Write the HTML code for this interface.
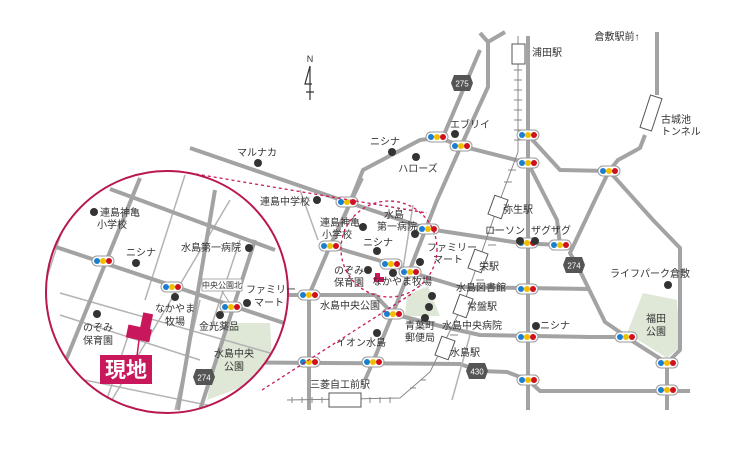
<!DOCTYPE html>
<html><head><meta charset="utf-8"><style>
html,body{margin:0;padding:0;background:#fff}
svg{display:block}
text{font-family:"Liberation Sans","Noto Sans CJK JP",sans-serif;fill:#333;font-size:10px}
.r{stroke:#a3a3a3;stroke-width:4;fill:none;stroke-linejoin:round}
.t{stroke:#b3b3b3;stroke-width:1.5;fill:none}
.d{fill:#333}
</style></head><body>
<svg width="730" height="457" viewBox="0 0 730 457" xmlns="http://www.w3.org/2000/svg">
<defs>
<g id="sg"><rect x="-11" y="-5" width="22" height="10" rx="5" fill="#fff" stroke="#999" stroke-width="1"/><circle cx="-6" cy="0" r="3" fill="#1a7fd0"/><circle cx="0" cy="0" r="3" fill="#f0c000"/><circle cx="6" cy="0" r="3" fill="#d0101a"/></g>
<clipPath id="cc"><circle cx="167" cy="292" r="121"/></clipPath>
</defs>

<polygon points="643,293 677,300 680,347 667,358 627,333" fill="#dfe8d6"/>
<polygon points="407,295 428,286 440,316 405,316" fill="#dfe8d6"/>

<polyline class="r" points="190,148 347,202 428,229 520,243 560,245"/>
<polyline class="r" points="330,246 391,264 410,272 460,287 590,289"/>
<polyline class="r" points="262,295 375,295 393,314 440,326 480,335 590,337 626,337 667,363"/>
<polyline class="r" points="195,362 460,364 480,371 507,372 528,380 540,391 690,391"/>
<polyline class="r" points="362,178 330,246 309,295 309,410"/>
<polyline class="r" points="480,33 488,42 488,87 461,146 437,200 393,313 373,362 365,380"/>
<polyline class="r" points="505,32 488,42"/>
<polyline class="r" points="480,50 443,137 420,140 363,170 343,220 330,246"/>
<polyline class="r" points="437,137 461,146 528,163"/>
<line class="r" x1="528" y1="36" x2="528" y2="410"/>
<polyline class="r" points="528,135 560,170 609,171"/>
<polyline class="r" points="528,163 557,220 560,245"/>
<polyline class="r" points="657,32 657,95"/>
<polyline class="r" points="645,135 640,148 618,160 609,171 595,200 570,253 582,275 605,322 627,337"/>
<polyline class="r" points="609,171 653,220 680,248 680,350 667,363 667,410"/>
<line class="t" x1="413" y1="205" x2="402" y2="275"/>
<line class="t" x1="300" y1="190" x2="318" y2="240"/>
<line class="t" x1="470" y1="335" x2="452" y2="400"/>
<g transform="translate(651,113) rotate(18)"><rect x="-6" y="-17" width="12" height="34" fill="#fff" stroke="#555" stroke-width="1"/></g>

<g stroke="#888" stroke-width="1" fill="none">
<polyline points="518,36 518,152 500,200 465,300 430,372 400,398 287,400"/>
<path d="M514,50h8M514,60h8M514,70h8M514,80h8M514,90h8M514,100h8M514,110h8M514,120h8M514,130h8M514,140h8M292,397v6M302,397v6M312,397v6M322,397v6M370,397v6M380,397v6M390,397v6M508,170h8M504,182h8M493,230h8M488,245h8M476,280h8M470,290h8M450,335h8M420,380h6M410,388h6"/>
</g>
<rect x="512" y="44" width="13" height="20" fill="#fff" stroke="#555"/>
<g transform="translate(498,207) rotate(20)"><rect x="-7" y="-10" width="14" height="20" fill="#fff" stroke="#555"/></g>
<g transform="translate(478,261) rotate(20)"><rect x="-7" y="-10" width="14" height="20" fill="#fff" stroke="#555"/></g>
<g transform="translate(463,306) rotate(20)"><rect x="-7" y="-10" width="14" height="20" fill="#fff" stroke="#555"/></g>
<g transform="translate(445,348) rotate(20)"><rect x="-7" y="-10" width="14" height="20" fill="#fff" stroke="#555"/></g>
<rect x="329" y="393" width="32" height="14" fill="#fff" stroke="#555"/>

<g transform="translate(462,83)"><polygon points="-8,-8 8,-8 11,0 8,8 -8,8 -11,0" fill="#555"/><text x="0" y="3.5" text-anchor="middle" style="fill:#fff;font-size:8px">275</text></g>
<g transform="translate(574,265)"><polygon points="-8,-8 8,-8 11,0 8,8 -8,8 -11,0" fill="#555"/><text x="0" y="3.5" text-anchor="middle" style="fill:#fff;font-size:8px">274</text></g>
<g transform="translate(477,371)"><polygon points="-8,-8 8,-8 11,0 8,8 -8,8 -11,0" fill="#555"/><text x="0" y="3.5" text-anchor="middle" style="fill:#fff;font-size:8px">430</text></g>

<use href="#sg" x="437" y="137"/><use href="#sg" x="461" y="146"/><use href="#sg" x="528" y="135"/><use href="#sg" x="528" y="163"/>
<use href="#sg" x="609" y="171"/><use href="#sg" x="347" y="202"/><use href="#sg" x="428" y="229"/><use href="#sg" x="330" y="246"/>
<use href="#sg" x="527" y="243"/><use href="#sg" x="560" y="245"/><use href="#sg" x="391" y="264"/><use href="#sg" x="410" y="272"/>
<use href="#sg" x="309" y="295"/><use href="#sg" x="527" y="289"/><use href="#sg" x="393" y="314"/><use href="#sg" x="527" y="337"/>
<use href="#sg" x="626" y="337"/><use href="#sg" x="667" y="363"/><use href="#sg" x="309" y="362"/><use href="#sg" x="373" y="362"/>
<use href="#sg" x="528" y="380"/><use href="#sg" x="667" y="390"/>

<g class="d">
<circle cx="258" cy="163" r="4"/><circle cx="317" cy="200" r="4"/><circle cx="392" cy="152" r="4"/><circle cx="416" cy="157" r="4"/>
<circle cx="455" cy="134" r="4"/><circle cx="363" cy="227" r="4"/><circle cx="415" cy="234" r="4"/><circle cx="377" cy="251" r="4"/>
<circle cx="420" cy="262" r="4"/><circle cx="368" cy="270" r="4"/><circle cx="393" cy="273" r="4"/><circle cx="432" cy="296" r="4"/>
<circle cx="429" cy="307" r="4"/><circle cx="425" cy="318" r="4"/><circle cx="377" cy="333" r="4"/><circle cx="520" cy="241" r="4"/>
<circle cx="535" cy="241" r="4"/><circle cx="668" cy="285" r="4"/><circle cx="536" cy="326" r="4"/>
</g>
<path d="M375,273h5v4h4v5h-10v-5h1z" fill="#c8175a"/>

<text x="257" y="156" text-anchor="middle">マルナカ</text>
<text x="285" y="205" text-anchor="middle">連島中学校</text>
<text x="385" y="145" text-anchor="middle">ニシナ</text>
<text x="418" y="172" text-anchor="middle">ハローズ</text>
<text x="470" y="128" text-anchor="middle">エブリイ</text>
<text x="394" y="218" text-anchor="middle">水島</text>
<text x="397" y="230" text-anchor="middle">第一病院</text>
<text x="340" y="226" text-anchor="middle">連島神亀</text>
<text x="337" y="238" text-anchor="middle">小学校</text>
<text x="378" y="246" text-anchor="middle">ニシナ</text>
<text x="452" y="251" text-anchor="middle">ファミリー</text>
<text x="448" y="263" text-anchor="middle">マート</text>
<text x="349" y="274" text-anchor="middle">のぞみ</text>
<text x="349" y="286" text-anchor="middle">保育園</text>
<text x="402" y="285" text-anchor="middle">なかやま牧場</text>
<text x="481" y="291" text-anchor="middle">水島図書館</text>
<text x="350" y="309" text-anchor="middle">水島中央公園</text>
<text x="420" y="329" text-anchor="middle">青葉町</text>
<text x="420" y="341" text-anchor="middle">郵便局</text>
<text x="472" y="329" text-anchor="middle">水島中央病院</text>
<text x="361" y="346" text-anchor="middle">イオン水島</text>
<text x="465" y="356" text-anchor="middle">水島駅</text>
<text x="482" y="310" text-anchor="middle">常盤駅</text>
<text x="489" y="270" text-anchor="middle">栄駅</text>
<text x="518" y="213" text-anchor="middle">弥生駅</text>
<text x="532" y="56">浦田駅</text>
<text x="505" y="234" text-anchor="middle">ローソン</text>
<text x="551" y="234" text-anchor="middle">ザグザグ</text>
<text x="650" y="277" text-anchor="middle">ライフパーク倉敷</text>
<text x="656" y="322" text-anchor="middle">福田</text>
<text x="656" y="335" text-anchor="middle">公園</text>
<text x="555" y="329" text-anchor="middle">ニシナ</text>
<text x="661" y="123">古城池</text>
<text x="661" y="135">トンネル</text>
<text x="617" y="40" text-anchor="middle">倉敷駅前↑</text>
<text x="340" y="388" text-anchor="middle">三菱自工前駅</text>

<text x="310" y="62" text-anchor="middle" style="font-size:9px">N</text>
<path d="M310,66 L310,100 M306,92h8 M310,66 L305,84 L312,84" stroke="#333" stroke-width="1.2" fill="none"/>

<g stroke="#c8175a" stroke-width="1.3" stroke-dasharray="3,3" fill="none">
<circle cx="389" cy="249" r="48"/>
<line x1="190" y1="173" x2="427" y2="213"/>
<line x1="262" y1="390" x2="413" y2="293"/>
</g>

<circle cx="167" cy="292" r="121" fill="#fff"/>
<g clip-path="url(#cc)">
<polygon points="227,323 270,323 272,360 242,387 207,400 213,367" fill="#dfe8d6"/>
<g class="t" stroke="#c4c4c4">
<line x1="80" y1="175" x2="30" y2="330"/><line x1="185" y1="175" x2="145" y2="300"/><line x1="200" y1="300" x2="175" y2="410"/>
<line x1="60" y1="293" x2="270" y2="353"/><line x1="60" y1="315" x2="200" y2="360"/><line x1="60" y1="375" x2="280" y2="420"/>
<line x1="230" y1="200" x2="100" y2="420"/><line x1="240" y1="240" x2="210" y2="330"/><line x1="130" y1="330" x2="100" y2="420"/>
</g>
<line class="r" stroke-width="5" x1="110" y1="189" x2="275" y2="250"/>
<line class="r" stroke-width="5" x1="50" y1="245" x2="290" y2="325"/>
<line class="r" stroke-width="5" x1="140" y1="178" x2="66" y2="360"/>
<line class="r" stroke-width="5" x1="215" y1="190" x2="178" y2="410"/>
<line class="r" stroke-width="5" x1="255" y1="240" x2="200" y2="410"/>
<g transform="translate(204,377)"><polygon points="-8,-8 8,-8 11,0 8,8 -8,8 -11,0" fill="#555"/><text x="0" y="3.5" text-anchor="middle" style="fill:#fff;font-size:8px">274</text></g>
</g>
<circle cx="167" cy="292" r="121" fill="none" stroke="#b8174f" stroke-width="2"/>

<use href="#sg" x="103" y="261"/><use href="#sg" x="172" y="287"/><use href="#sg" x="231" y="307"/>
<rect x="202" y="279" width="40" height="12" fill="#fff" stroke="#999" stroke-width="0.8"/>
<text x="222" y="288" text-anchor="middle" style="font-size:8px">中央公園北</text>
<line x1="222" y1="291" x2="229" y2="302" stroke="#999" stroke-width="0.8"/>
<g class="d">
<circle cx="94" cy="212" r="4"/><circle cx="136" cy="263" r="4"/><circle cx="249" cy="248" r="4"/><circle cx="175" cy="297" r="4"/>
<circle cx="247" cy="303" r="4"/><circle cx="220" cy="315" r="4"/><circle cx="97" cy="314" r="4"/>
</g>
<text x="100" y="216">連島神亀</text><text x="97" y="228">小学校</text>
<text x="141" y="256" text-anchor="middle">ニシナ</text>
<text x="241" y="251" text-anchor="end">水島第一病院</text>
<text x="246" y="293">ファミリー</text><text x="254" y="306">マート</text>
<text x="175" y="312" text-anchor="middle">なかやま</text><text x="175" y="325" text-anchor="middle">牧場</text>
<text x="219" y="330" text-anchor="middle">金光薬品</text>
<text x="98" y="331" text-anchor="middle">のぞみ</text><text x="98" y="344" text-anchor="middle">保育園</text>
<text x="234" y="357" text-anchor="middle">水島中央</text><text x="234" y="370" text-anchor="middle">公園</text>
<g transform="rotate(12 140 328)">
<rect x="140" y="312" width="10" height="18" fill="#c8175a"/>
<rect x="128" y="327" width="24" height="13" fill="#c8175a"/>
</g>
<line x1="139" y1="340" x2="137" y2="356" stroke="#c8175a" stroke-width="1.5"/>
<rect x="100" y="355" width="52" height="29" fill="#c8175a"/>
<text x="126" y="377" text-anchor="middle" style="fill:#fff;font-size:21px;font-weight:bold">現地</text>
</svg>
</body></html>
